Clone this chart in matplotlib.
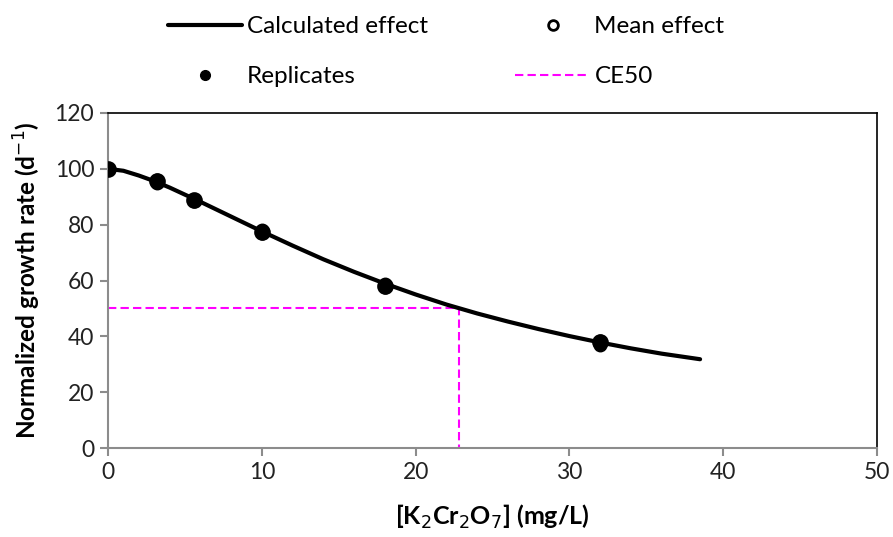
import matplotlib.pyplot as plt

plt.rcParams['font.family'] = ['Lato', 'DejaVu Sans']

# Replicate measurements
rep_x = [0, 0, 0, 3.2, 3.2, 5.6, 5.6, 10, 10, 18, 18, 32, 32]
rep_y = [100, 100, 100, 95.0, 96.0, 88.5, 89.0, 77.0, 78.0, 57.5, 58.8, 37.0, 38.5]

# Mean effect per concentration
mean_x = [0, 3.2, 5.6, 10, 18, 32]
mean_y = [100, 95.5, 88.8, 77.5, 58.2, 37.8]

# Calculated effect curve
curve_x = [0, 1, 2, 3, 4, 6, 8, 10, 12, 14, 16, 18, 20, 22, 24, 26, 28, 30, 32, 34, 36, 38.5]
curve_y = [100, 99.3, 97.6, 95.6, 93.3, 88.2, 82.9, 77.6, 72.5, 67.6, 63.1, 58.9, 55.0,
           51.4, 48.2, 45.3, 42.6, 40.1, 37.8, 35.7, 33.8, 31.8]

ce50 = 22.8

fig = plt.figure(figsize=(8.93, 5.37), dpi=100)
ax = fig.add_axes([0.121, 0.1657, 0.861, 0.6239])

line_calc, = ax.plot(curve_x, curve_y, color='black', lw=3, solid_capstyle='round',
                     label='Calculated effect', zorder=3)
pts_rep, = ax.plot(rep_x, rep_y, 'o', color='black', ms=9, ls='none',
                   label='Replicates', zorder=4)
pts_mean, = ax.plot(mean_x, mean_y, 'o', mfc='none', mec='black', mew=2, ms=10,
                    ls='none', label='Mean effect', zorder=5)
line_ce, = ax.plot([0, ce50, ce50], [50, 50, 0], color='#ff00ff', lw=1.5,
                   ls=(0, (4, 2)), label='CE50', zorder=2)

ax.set_xlim(0, 50)
ax.set_ylim(0, 120)
ax.set_xticks(range(0, 51, 10))
ax.set_yticks(range(0, 121, 20))

for s in ['left', 'bottom']:
    ax.spines[s].set_color('#8c8c8c')
    ax.spines[s].set_linewidth(1.5)
for s in ['top', 'right']:
    ax.spines[s].set_color('black')
    ax.spines[s].set_linewidth(1.2)
ax.tick_params(direction='out', length=6, width=1.5, color='#8c8c8c',
               labelsize=16.5, labelcolor='#222222', pad=4)

ax.set_xlabel('[K$_2$Cr$_2$O$_7$] (mg/L)', fontsize=18, fontweight='bold', labelpad=14)
ax.set_ylabel('Normalized growth rate (d$^{-1}$)', fontsize=17.5, fontweight='bold', labelpad=8)

leg = fig.legend([line_calc, pts_rep, pts_mean, line_ce],
                 ['Calculated effect', 'Replicates', 'Mean effect', 'CE50'],
                 ncol=2, loc='upper left', bbox_to_anchor=(168 / 893, 1 - 16 / 537),
                 frameon=False, fontsize=17.5, columnspacing=3.6, handlelength=3.05,
                 handletextpad=0.2, labelspacing=1.2, borderpad=0, borderaxespad=0)
for h in leg.legend_handles:
    if h.get_marker() == 'o':
        h.set_markersize(7)

plt.savefig('out.png', dpi=100)
